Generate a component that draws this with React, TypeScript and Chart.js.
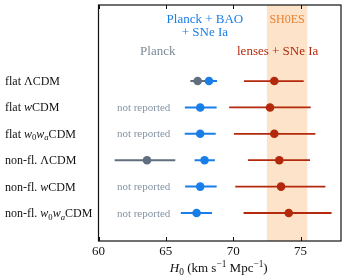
import React, { useEffect, useRef } from "react";
import { Chart, registerables } from "chart.js";

Chart.register(...registerables);

// ---- data ----
const categories = ["flat ΛCDM", "flat wCDM", "flat w0waCDM", "non-fl. ΛCDM", "non-fl. wCDM", "non-fl. w0waCDM"];
// rich label segments for each category (italic / subscript markup)
const categoryLabels = [
  [{ t: "flat ΛCDM" }],
  [{ t: "flat " }, { t: "w", it: true }, { t: "CDM" }],
  [{ t: "flat " }, { t: "w", it: true }, { t: "0", sub: true }, { t: "w", it: true }, { t: "a", it: true, sub: true }, { t: "CDM" }],
  [{ t: "non-fl. ΛCDM" }],
  [{ t: "non-fl. " }, { t: "w", it: true }, { t: "CDM" }],
  [{ t: "non-fl. " }, { t: "w", it: true }, { t: "0", sub: true }, { t: "w", it: true }, { t: "a", it: true, sub: true }, { t: "CDM" }],
];

const planckH0 = [67.36, null, null, 63.6, null, null];
const planckLo = [66.82, null, null, 61.2, null, null];
const planckHi = [67.9, null, null, 65.7, null, null];

const baoH0 = [68.2, 67.55, 67.55, 67.87, 67.55, 67.28];
const baoLo = [67.6, 66.41, 66.4, 67.13, 66.43, 66.11];
const baoHi = [68.8, 68.77, 68.7, 68.64, 68.77, 68.42];

const lensH0 = [73.05, 72.73, 73.05, 73.42, 73.55, 74.12];
const lensLo = [70.8, 69.7, 70.05, 71.1, 70.15, 70.77];
const lensHi = [75.23, 75.75, 76.1, 75.7, 76.84, 77.3];

const shoesLo = 72.5;
const shoesHi = 75.5;

const xTicks = [60, 65, 70, 75];
const xMin = 60;
const xMax = 78;

const GRAY = "#5f6f7f";
const BLUE = "#1a7ee8";
const RED = "#b3290c";
const SHADE = "#fde3c9";
const ORANGE = "#e8802e";
const NOTREP = "#8494a4";
const FONT = '"Liberation Serif", "Times New Roman", serif';

function drawRich(ctx, segs, x, y, size, align, color) {
  const parts = segs.map((s) => {
    const fs = s.sub || s.sup ? size * 0.72 : size;
    const font = `${s.it ? "italic " : ""}${fs}px ${FONT}`;
    ctx.font = font;
    return { ...s, font, w: ctx.measureText(s.t).width };
  });
  const total = parts.reduce((a, p) => a + p.w, 0);
  let cx = align === "center" ? x - total / 2 : align === "right" ? x - total : x;
  ctx.save();
  ctx.fillStyle = color;
  ctx.textAlign = "left";
  ctx.textBaseline = "alphabetic";
  for (const p of parts) {
    ctx.font = p.font;
    const dy = p.sub ? size * 0.22 : p.sup ? -size * 0.38 : 0;
    ctx.fillText(p.t, cx, y + dy);
    cx += p.w;
  }
  ctx.restore();
}

function errorBarDatasets(h0, lo, hi, color, lw) {
  const sets = [];
  h0.forEach((v, i) => {
    if (v == null) return;
    sets.push({
      type: "line",
      data: [{ x: lo[i], y: i }, { x: hi[i], y: i }],
      borderColor: color,
      borderWidth: lw,
      pointRadius: 0,
      showLine: true,
      fill: false,
    });
  });
  sets.push({
    type: "scatter",
    data: h0.map((v, i) => (v == null ? null : { x: v, y: i })).filter((p) => p),
    backgroundColor: color,
    borderWidth: 0,
    pointRadius: 4.3,
    pointHoverRadius: 4.3,
  });
  return sets;
}

const overlay = {
  id: "overlay",
  beforeDatasetsDraw(chart) {
    const { ctx, chartArea: a, scales } = chart;
    const x = scales.x;
    ctx.save();
    ctx.fillStyle = SHADE;
    const x0 = x.getPixelForValue(shoesLo);
    const x1 = x.getPixelForValue(shoesHi);
    ctx.fillRect(x0, a.top, x1 - x0, a.bottom - a.top);
    ctx.restore();
  },
  afterDraw(chart) {
    const { ctx, chartArea: a, scales } = chart;
    const x = scales.x;
    const y = scales.y;
    ctx.save();
    // frame
    ctx.strokeStyle = "#111";
    ctx.lineWidth = 1.2;
    ctx.strokeRect(a.left, a.top, a.right - a.left, a.bottom - a.top);
    // inward ticks
    ctx.lineWidth = 1;
    xTicks.forEach((t) => {
      const px = Math.round(x.getPixelForValue(t)) + 0.5;
      ctx.beginPath();
      ctx.moveTo(px, a.top);
      ctx.lineTo(px, a.top + 4);
      ctx.moveTo(px, a.bottom);
      ctx.lineTo(px, a.bottom - 4);
      ctx.stroke();
    });
    ctx.restore();

    // row labels
    categoryLabels.forEach((segs, i) => {
      drawRich(ctx, segs, 5, y.getPixelForValue(i) + 4, 12, "left", "#111");
    });
    // not reported
    planckH0.forEach((v, i) => {
      if (v != null) return;
      drawRich(ctx, [{ t: "not reported" }], x.getPixelForValue(63.35), y.getPixelForValue(i) + 3.5, 11, "center", NOTREP);
    });
    // annotations
    drawRich(ctx, [{ t: "Planck + BAO" }], x.getPixelForValue(67.9), 22.5, 13, "center", BLUE);
    drawRich(ctx, [{ t: "+ SNe Ia" }], x.getPixelForValue(67.9), 35.5, 13, "center", BLUE);
    drawRich(ctx, [{ t: "SH0ES" }], x.getPixelForValue(74.0), 22.5, 12, "center", ORANGE);
    drawRich(ctx, [{ t: "Planck" }], x.getPixelForValue(64.4), 54.5, 13, "center", "#7b8a98");
    drawRich(ctx, [{ t: "lenses + SNe Ia" }], x.getPixelForValue(73.3), 54.5, 13, "center", RED);
    // axis title
    drawRich(
      ctx,
      [
        { t: "H", it: true },
        { t: "0", sub: true },
        { t: " (km s" },
        { t: "−1", sup: true },
        { t: " Mpc" },
        { t: "−1", sup: true },
        { t: ")" },
      ],
      (a.left + a.right) / 2 - 1,
      272,
      13,
      "center",
      "#111"
    );
  },
};

export default function App() {
  const ref = useRef(null);
  useEffect(() => {
    document.body.style.margin = "0";
    const chart = new Chart(ref.current, {
      type: "scatter",
      data: {
        datasets: [
          ...errorBarDatasets(planckH0, planckLo, planckHi, GRAY, 2),
          ...errorBarDatasets(baoH0, baoLo, baoHi, BLUE, 2),
          ...errorBarDatasets(lensH0, lensLo, lensHi, RED, 1.8),
        ],
      },
      options: {
        animation: false,
        responsive: false,
        devicePixelRatio: 1,
        layout: { padding: { left: 98.5, right: 5, top: 5, bottom: 0 } },
        plugins: { legend: { display: false }, tooltip: { enabled: false } },
        scales: {
          x: {
            type: "linear",
            min: xMin,
            max: xMax,
            afterBuildTicks: (s) => {
              s.ticks = xTicks.map((v) => ({ value: v }));
            },
            afterFit: (s) => {
              s.height = 39;
            },
            grid: { display: false, drawTicks: false },
            border: { display: false },
            ticks: { color: "#111", font: { family: FONT, size: 13 }, padding: 3 },
          },
          y: {
            type: "linear",
            display: false,
            reverse: true,
            min: -2.88,
            max: 6.06,
          },
        },
      },
      plugins: [overlay],
    });
    return () => chart.destroy();
  }, []);
  return (
    <div style={{ position: "fixed", left: 0, top: 0, width: 346, height: 280 }}>
      <canvas ref={ref} width={346} height={280} />
    </div>
  );
}
